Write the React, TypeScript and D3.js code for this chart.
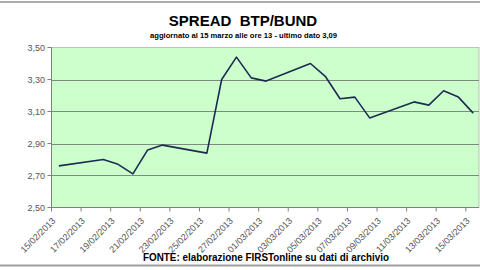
import React from "react";
import * as d3 from "d3";

const dates: string[] = [
  "15/02/2013", "18/02/2013", "19/02/2013", "20/02/2013", "21/02/2013", "22/02/2013",
  "25/02/2013", "26/02/2013", "27/02/2013", "28/02/2013", "01/03/2013",
  "04/03/2013", "05/03/2013", "06/03/2013", "07/03/2013", "08/03/2013",
  "11/03/2013", "12/03/2013", "13/03/2013", "14/03/2013", "15/03/2013",
];
const spread: number[] = [
  2.76, 2.80, 2.77, 2.71, 2.86, 2.89,
  2.84, 3.30, 3.44, 3.31, 3.29,
  3.40, 3.32, 3.18, 3.19, 3.06,
  3.16, 3.14, 3.23, 3.19, 3.09,
];
const yTicks: number[] = [2.5, 2.7, 2.9, 3.1, 3.3, 3.5];
const title = "SPREAD\u00a0\u00a0BTP/BUND";
const subtitle = "aggiornato al 15 marzo alle ore 13 - ultimo dato 3,09";
const footer = "FONTE: elaborazione FIRSTonline su dati di archivio";

const parse = (s: string) => {
  const [d, m, y] = s.split("/").map(Number);
  return new Date(Date.UTC(y, m - 1, d));
};

export default function App() {
  const W = 480, H = 270;
  const left = 51.5, top = 47.5, bottom = 207.5;
  const start = new Date(Date.UTC(2013, 1, 15));
  const end = new Date(Date.UTC(2013, 2, 16));
  const x = d3.scaleUtc().domain([start, end]).range([left, 480.6]);
  const y = d3.scaleLinear().domain([2.5, 3.5]).range([bottom, top]);
  const right = 479;
  const pts = dates.map((s, i) => ({ d: d3.utcHour.offset(parse(s), 12), v: spread[i] }));
  const line = d3.line<{ d: Date; v: number }>().x(p => x(p.d)).y(p => y(p.v));
  const xTicks = d3.utcDay.every(2)!.range(start, end);
  const fmtX = d3.utcFormat("%d/%m/%Y");
  const fmtY = (v: number) => d3.format(".2f")(v).replace(".", ",");
  const font = "Arial, 'Liberation Sans', sans-serif";

  return (
    <svg width={W} height={H} style={{ position: "absolute", left: 0, top: 0, background: "#fff" }} fontFamily={font}>
      <line x1={0} x2={W} y1={2} y2={2} stroke="#909090" strokeWidth={1.5} />
      <line x1={0} x2={W} y1={265.5} y2={265.5} stroke="#a0a0a0" strokeWidth={2} />
      <text x={243} y={26} textAnchor="middle" fontSize={15} fontWeight="bold" fill="#000">{title}</text>
      <text x={243.5} y={38} textAnchor="middle" fontSize={7.5} fontWeight="bold" fill="#000" textLength={187} lengthAdjust="spacingAndGlyphs">{subtitle}</text>
      <rect x={left} y={top} width={right - left} height={bottom - top} fill="#ccffcc" stroke="#c0c0c0" strokeWidth={1} />
      {yTicks.filter(t => t > 2.5 && t < 3.5).map(t => (
        <line key={t} x1={left} x2={right} y1={Math.round(y(t)) + 0.5} y2={Math.round(y(t)) + 0.5} stroke="#7f8a7f" strokeWidth={1} />
      ))}
      <line x1={left} x2={left} y1={top} y2={bottom} stroke="#808080" />
      <line x1={left} x2={right} y1={bottom} y2={bottom} stroke="#808080" />
      {yTicks.map(t => (
        <g key={t}>
          <line x1={left - 4} x2={left} y1={y(t)} y2={y(t)} stroke="#808080" />
          <text x={45} y={y(t) + 3} textAnchor="end" fontSize={9} fill="#555">{fmtY(t)}</text>
        </g>
      ))}
      {xTicks.map(t => (
        <g key={+t}>
          <line x1={x(t)} x2={x(t)} y1={bottom} y2={bottom + 4} stroke="#808080" />
          <text transform={`translate(${x(t) + 4.5},${bottom + 14}) rotate(-45)`} textAnchor="end" fontSize={9} fill="#555">{fmtX(t)}</text>
        </g>
      ))}
      <path d={line(pts) || ""} fill="none" stroke="#1d2b52" strokeWidth={1.6} strokeLinejoin="round" />
      <text x={143} y={260.5} fontSize={11} fontWeight="bold" fill="#000" textLength={246} lengthAdjust="spacingAndGlyphs">{footer}</text>
    </svg>
  );
}
